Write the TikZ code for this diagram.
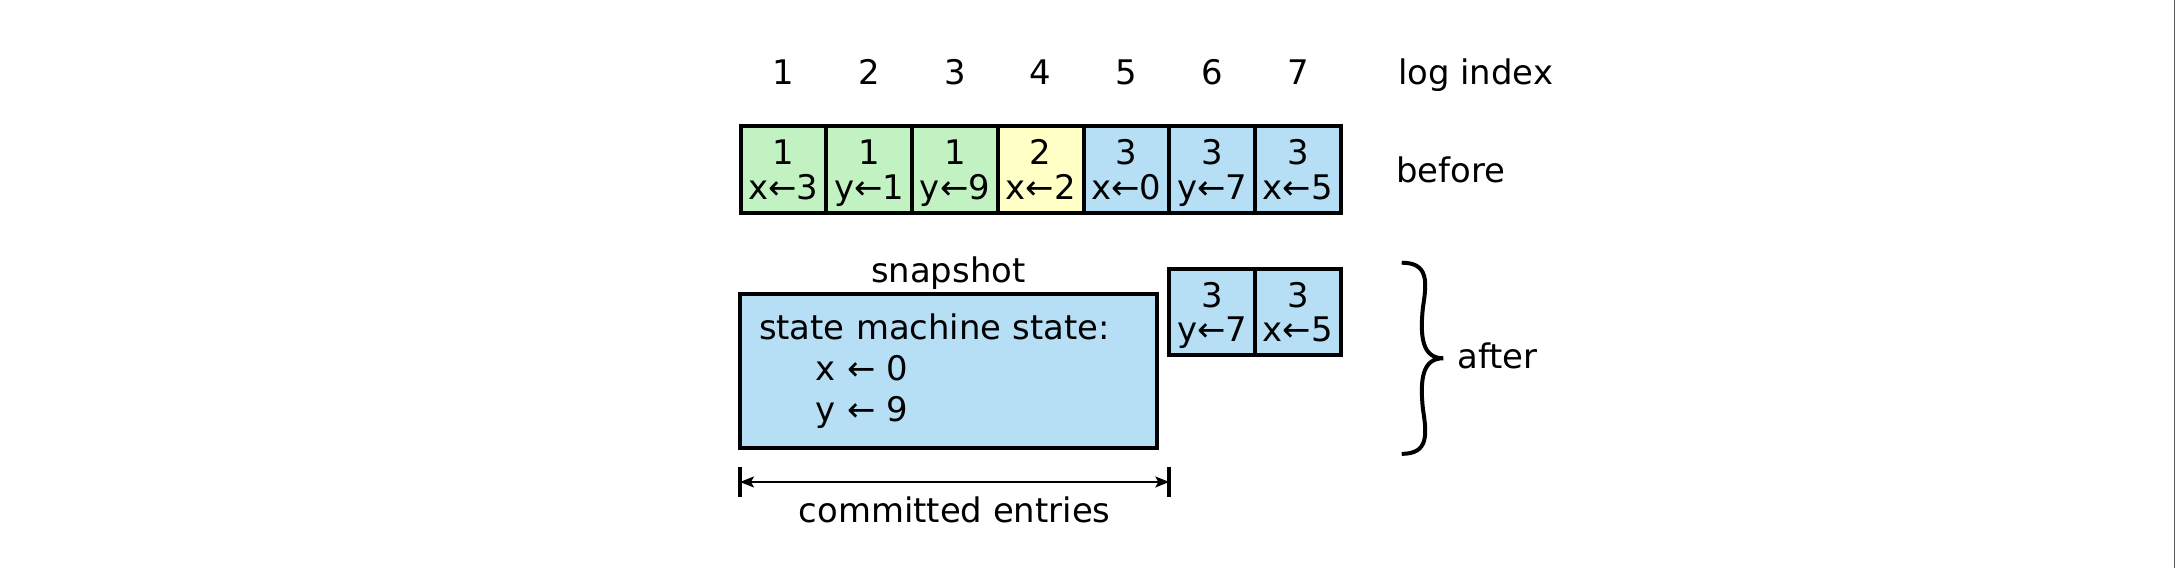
\documentclass[tikz,border=0pt]{standalone}
\usepackage{fontspec}
\setmainfont{DejaVu Sans}
\usepackage{tikz}
\usetikzlibrary{arrows.meta,calc,positioning}
\definecolor{termone}{RGB}{194,242,194}
\definecolor{termtwo}{RGB}{255,255,198}
\definecolor{termthree}{RGB}{182,222,244}
\newcommand{\cellfont}{\fontsize{17}{17.5}\selectfont}
\newcommand{\snapfont}{\fontsize{17}{20.5}\selectfont}
\tikzset{
  entry/.style={
    draw=black,
    line width=2pt,
    fill=termthree,
    align=center,
    text depth=0pt,
    minimum width=1.512cm,
    minimum height=1.525cm,
    inner sep=0pt,
    outer sep=0pt,
    font=\cellfont
  },
  snapbox/.style={
    draw=black,
    line width=2pt,
    fill=termthree,
    align=left,
    text width=6.68cm,
    minimum width=7.35cm,
    minimum height=2.716cm,
    inner xsep=.335cm,
    outer sep=0pt,
    font=\snapfont
  },
  lbl/.style={
    inner sep=0pt,
    font=\cellfont
  },
  span/.style={
    {Stealth[length=7pt,width=5.5pt,inset=1.5pt]}-{Stealth[length=7pt,width=5.5pt,inset=1.5pt]},
    line width=.85pt
  },
  endbar/.style={
    line width=2pt
  }
}
\begin{document}
\begin{tikzpicture}[node distance=0pt]
\useasboundingbox (0,0) rectangle (38.383,10.019);
% log before compaction
\node[entry, fill=termone] (c1) at (13.821,7.029) {1\\x←3};
\node[entry, fill=termone, right=of c1] (c2) {1\\y←1};
\node[entry, fill=termone, right=of c2] (c3) {1\\y←9};
\node[entry, fill=termtwo, right=of c3] (c4) {2\\x←2};
\node[entry, right=of c4] (c5) {3\\x←0};
\node[entry, right=of c5] (c6) {3\\y←7};
\node[entry, right=of c6] (c7) {3\\x←5};
% index row
\node[lbl, anchor=base west] (logidx) at (24.654,8.520) {log index};
\node[lbl, anchor=base] (i1) at (c1 |- logidx.base) {1};
\node[lbl, anchor=base] (i2) at (c2 |- logidx.base) {2};
\node[lbl, anchor=base] (i3) at (c3 |- logidx.base) {3};
\node[lbl, anchor=base] (i4) at (c4 |- logidx.base) {4};
\node[lbl, anchor=base] (i5) at (c5 |- logidx.base) {5};
\node[lbl, anchor=base] (i6) at (c6 |- logidx.base) {6};
\node[lbl, anchor=base] (i7) at (c7 |- logidx.base) {7};
\node[lbl, anchor=west] (before) at (24.62,7.029) {before};
% log after compaction
\node[snapbox] (snap) at (16.728,3.475) {state machine state:\\\hspace*{1cm}x ← 0\\\hspace*{1cm}y ← 9};
\node[lbl, above=.08cm of snap] (snaplbl) {snapshot};
\node[entry] (a6) at (21.381,4.516) {3\\y←7};
\node[entry, right=of a6] (a7) {3\\x←5};
\draw[line width=2pt]
  (24.725,5.385) .. controls (25.20,5.385) and (25.17,5.05) .. (25.10,4.60)
  .. controls (25.04,4.05) and (25.10,3.699) .. (25.459,3.699)
  .. controls (25.10,3.699) and (25.04,3.35) .. (25.10,2.80)
  .. controls (25.17,2.35) and (25.20,2.013) .. (24.725,2.013);
\node[lbl, anchor=west] (after) at (25.70,3.75) {after};
% committed entries
\coordinate (cmtL) at (13.053,1.517);
\coordinate (cmtR) at (a6.west |- cmtL);
\draw[span] (cmtL) -- (cmtR) node[lbl, midway, below=.244cm] (cmttxt) {committed entries};
\draw[endbar] (cmtL) ++(0,.256) -- ++(0,-.512);
\draw[endbar] (cmtR) ++(0,.256) -- ++(0,-.512);
% page edge
\draw[black!65, line width=.75pt] (38.36,0) -- (38.36,10.019);
\end{tikzpicture}
\end{document}
